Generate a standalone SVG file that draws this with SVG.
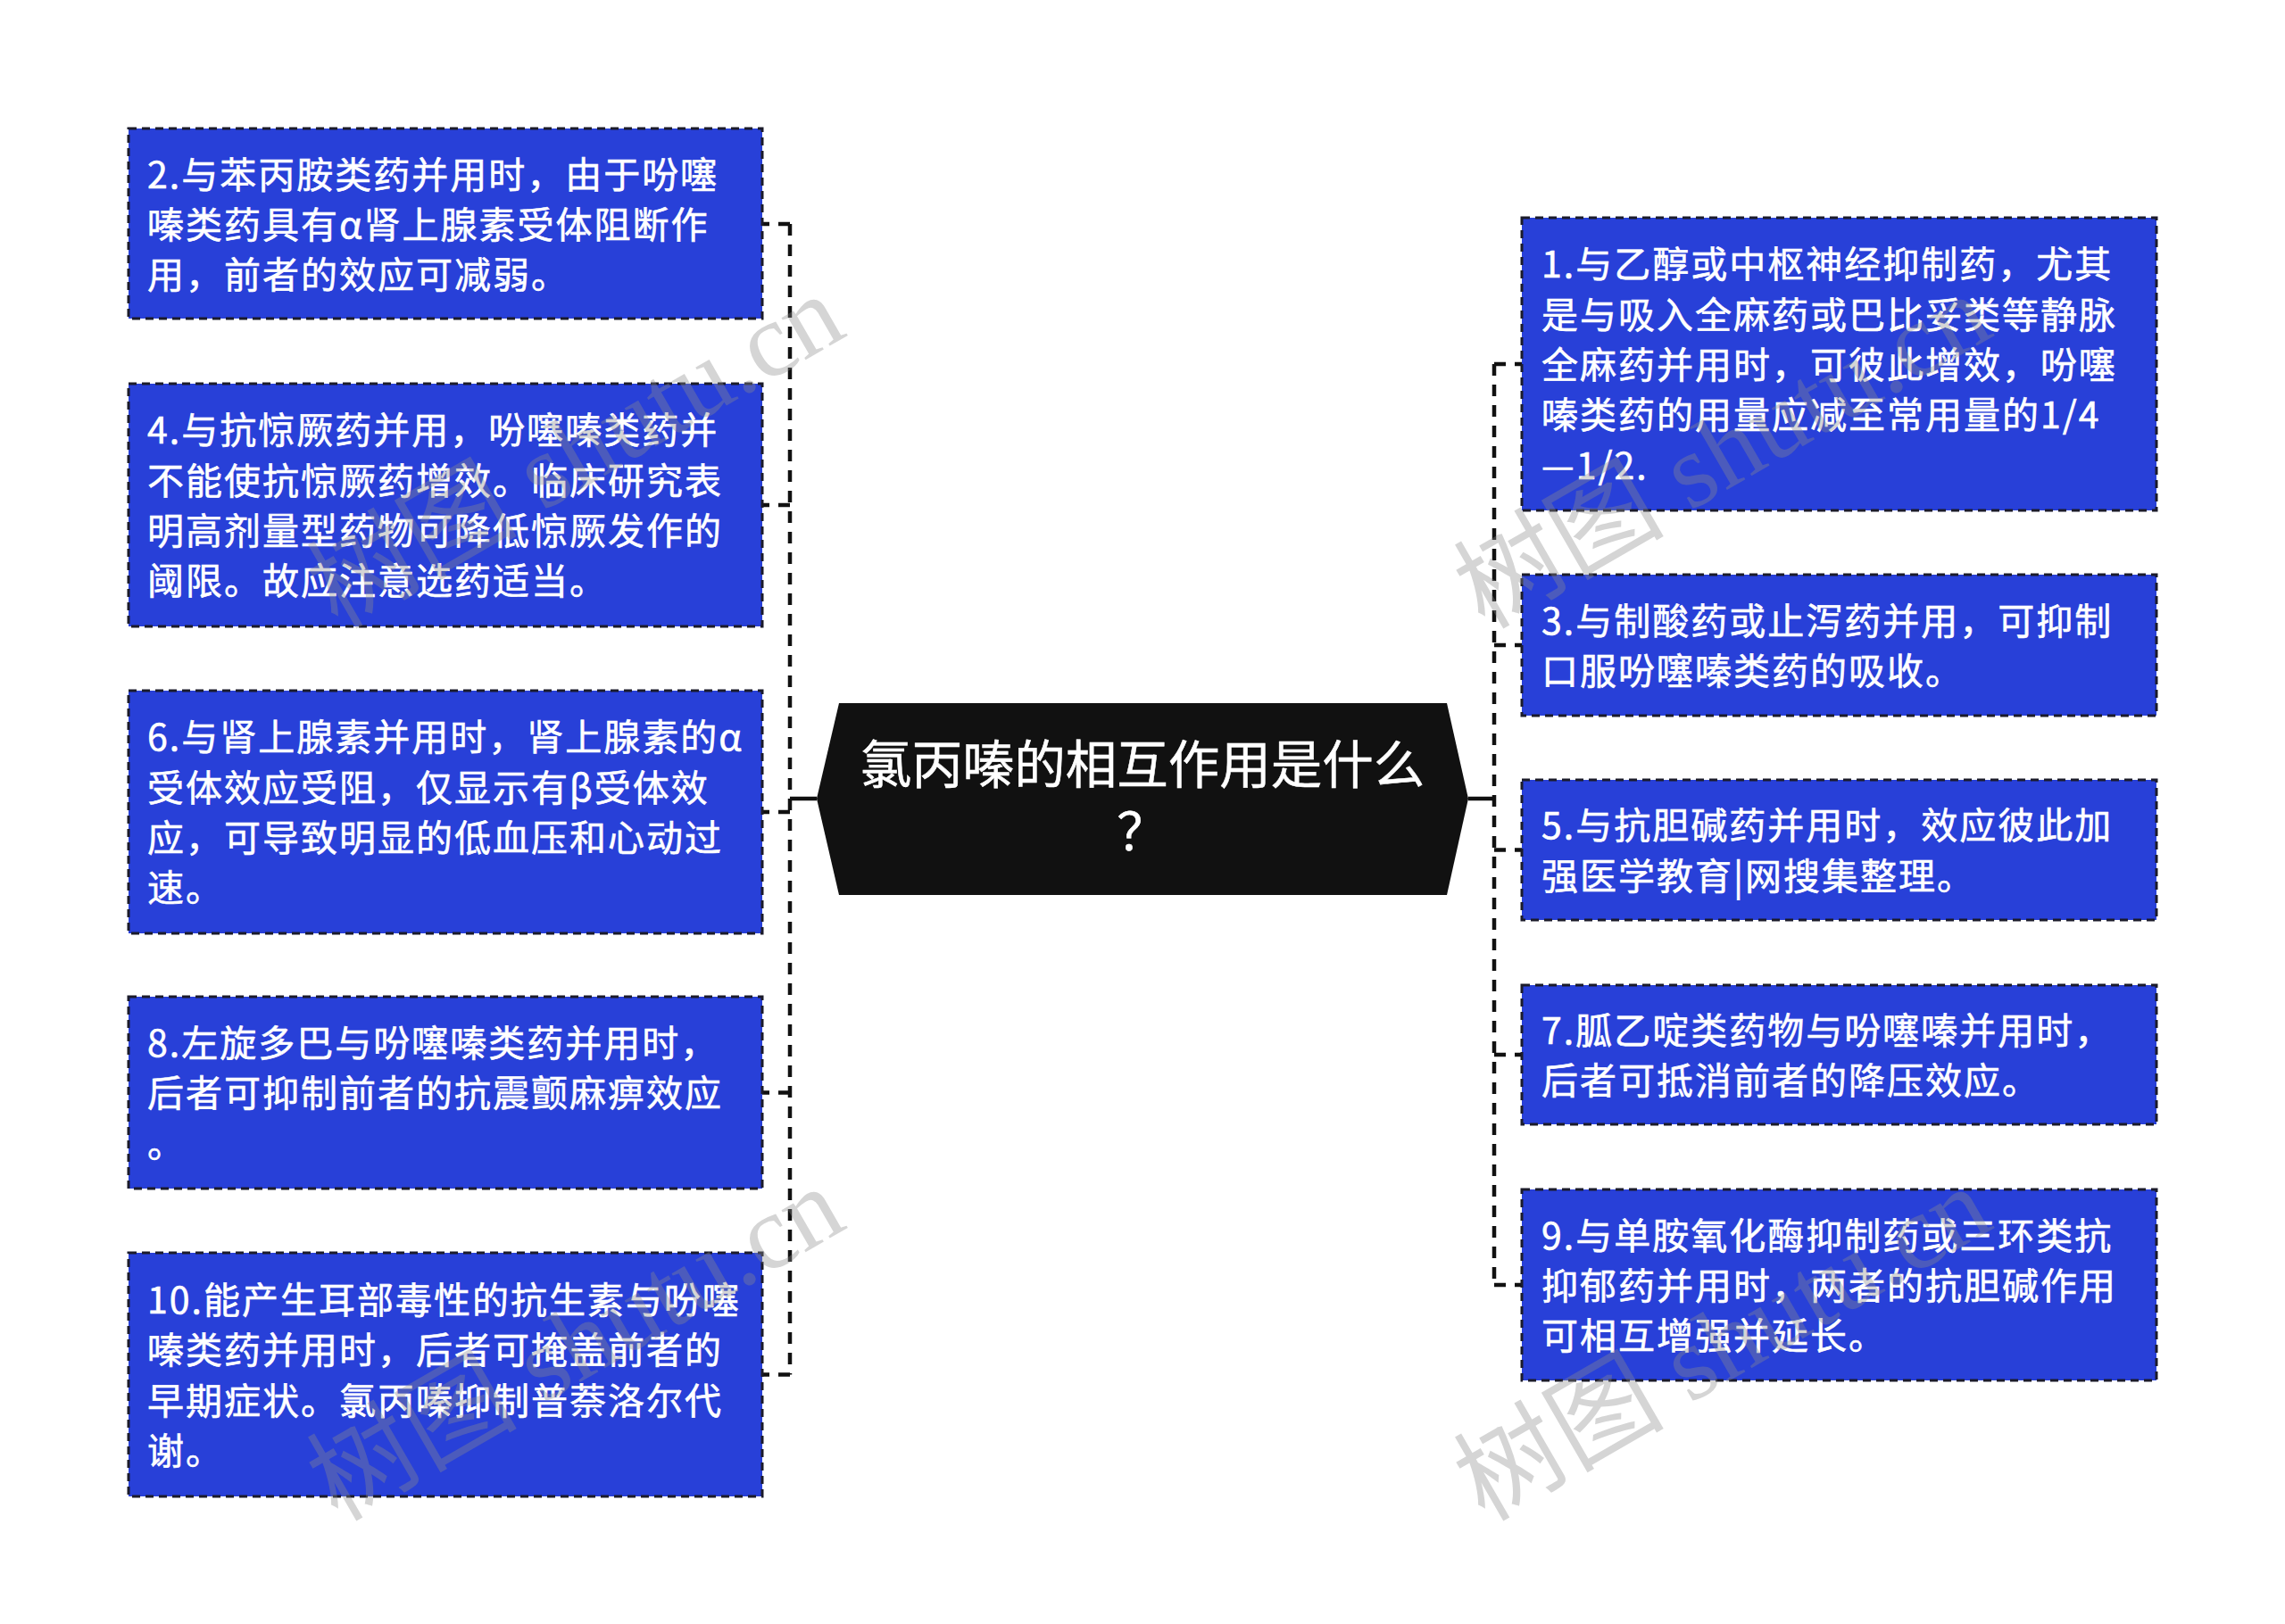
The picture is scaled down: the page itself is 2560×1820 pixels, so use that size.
<svg xmlns="http://www.w3.org/2000/svg" width="2560" height="1820" viewBox="0 0 2560 1820">
<defs>
<style>
.box{fill:#2840D8;stroke:#1b1b2a;stroke-width:3;stroke-dasharray:9 6}
.t{font-family:"Noto Sans CJK SC","Noto Sans",sans-serif;font-size:41px;letter-spacing:2px;fill:#ffffff;stroke:#ffffff;stroke-width:0.6px}
.title{font-family:"Noto Sans CJK SC","Noto Sans",sans-serif;font-size:57.5px;fill:#ffffff;stroke:#ffffff;stroke-width:0.5px;text-anchor:middle}
.dash{fill:none;stroke:#111;stroke-width:4.5;stroke-dasharray:13 10}
.solid{fill:none;stroke:#111;stroke-width:4.5}
.wm{font-family:"Liberation Serif","Noto Sans CJK SC",serif;font-size:118px;fill:#8c8c8c;opacity:0.36}
</style>
</defs>
<rect width="2560" height="1820" fill="#ffffff"/>
<g id="connectors">
<path class="dash" d="M885 251V1540.5"/>
<path class="dash" d="M885 251H854M885 566H854M885 910H854M885 1224.5H854M885 1540.5H854"/>
<path class="solid" d="M915 895H885"/>
<path class="dash" d="M1674 408V1440"/>
<path class="dash" d="M1674 408H1705M1674 723H1705M1674 952.5H1705M1674 1182H1705M1674 1440H1705"/>
<path class="solid" d="M1645 895H1674"/>
</g>
<g id="center">
<polygon points="915,895 940,788 1621,788 1645,895 1621,1003 940,1003" fill="#111111"/>
<text class="title" x="1280" y="878">氯丙嗪的相互作用是什么<tspan x="1280" dy="75">？</tspan></text>
</g>
<g id="node2">
<rect class="box" x="144" y="144" width="710" height="213"/>
<text class="t" x="165" y="211">2.与苯丙胺类药并用时，由于吩噻</text>
<text class="t" x="165" y="267">嗪类药具有α肾上腺素受体阻断作</text>
<text class="t" x="165" y="323">用，前者的效应可减弱。</text>
</g>
<g id="node4">
<rect class="box" x="144" y="430" width="710" height="272"/>
<text class="t" x="165" y="497">4.与抗惊厥药并用，吩噻嗪类药并</text>
<text class="t" x="165" y="554">不能使抗惊厥药增效。临床研究表</text>
<text class="t" x="165" y="610">明高剂量型药物可降低惊厥发作的</text>
<text class="t" x="165" y="666">阈限。故应注意选药适当。</text>
</g>
<g id="node6">
<rect class="box" x="144" y="774" width="710" height="272"/>
<text class="t" x="165" y="841">6.与肾上腺素并用时，肾上腺素的α</text>
<text class="t" x="165" y="898">受体效应受阻，仅显示有β受体效</text>
<text class="t" x="165" y="954">应，可导致明显的低血压和心动过</text>
<text class="t" x="165" y="1010">速。</text>
</g>
<g id="node8">
<rect class="box" x="144" y="1117" width="710" height="215"/>
<text class="t" x="165" y="1184">8.左旋多巴与吩噻嗪类药并用时，</text>
<text class="t" x="165" y="1240">后者可抑制前者的抗震颤麻痹效应</text>
<text class="t" x="165" y="1297">。</text>
</g>
<g id="node10">
<rect class="box" x="144" y="1404" width="710" height="273"/>
<text class="t" x="165" y="1472">10.能产生耳部毒性的抗生素与吩噻</text>
<text class="t" x="165" y="1528">嗪类药并用时，后者可掩盖前者的</text>
<text class="t" x="165" y="1585">早期症状。氯丙嗪抑制普萘洛尔代</text>
<text class="t" x="165" y="1641">谢。</text>
</g>
<g id="node1">
<rect class="box" x="1705" y="244" width="711" height="328"/>
<text class="t" x="1727" y="311">1.与乙醇或中枢神经抑制药，尤其</text>
<text class="t" x="1727" y="368">是与吸入全麻药或巴比妥类等静脉</text>
<text class="t" x="1727" y="424">全麻药并用时，可彼此增效，吩噻</text>
<text class="t" x="1727" y="480">嗪类药的用量应减至常用量的1/4</text>
<text class="t" x="1727" y="537">—1/2.</text>
</g>
<g id="node3">
<rect class="box" x="1705" y="644" width="711" height="158"/>
<text class="t" x="1727" y="711">3.与制酸药或止泻药并用，可抑制</text>
<text class="t" x="1727" y="767">口服吩噻嗪类药的吸收。</text>
</g>
<g id="node5">
<rect class="box" x="1705" y="874" width="711" height="157"/>
<text class="t" x="1727" y="940">5.与抗胆碱药并用时，效应彼此加</text>
<text class="t" x="1727" y="997">强医学教育|网搜集整理。</text>
</g>
<g id="node7">
<rect class="box" x="1705" y="1104" width="711" height="156"/>
<text class="t" x="1727" y="1170">7.胍乙啶类药物与吩噻嗪并用时，</text>
<text class="t" x="1727" y="1226">后者可抵消前者的降压效应。</text>
</g>
<g id="node9">
<rect class="box" x="1705" y="1333" width="711" height="214"/>
<text class="t" x="1727" y="1400">9.与单胺氧化酶抑制药或三环类抗</text>
<text class="t" x="1727" y="1456">抑郁药并用时，两者的抗胆碱作用</text>
<text class="t" x="1727" y="1512">可相互增强并延长。</text>
</g>
<g id="watermarks">
<text class="wm" x="378" y="706" transform="rotate(-30 378 706)">树图 shutu.cn</text>
<text class="wm" x="1663" y="706" transform="rotate(-30 1663 706)">树图 shutu.cn</text>
<text class="wm" x="378" y="1706" transform="rotate(-30 378 1706)">树图 shutu.cn</text>
<text class="wm" x="1663" y="1706" transform="rotate(-30 1663 1706)">树图 shutu.cn</text>
</g>
</svg>
